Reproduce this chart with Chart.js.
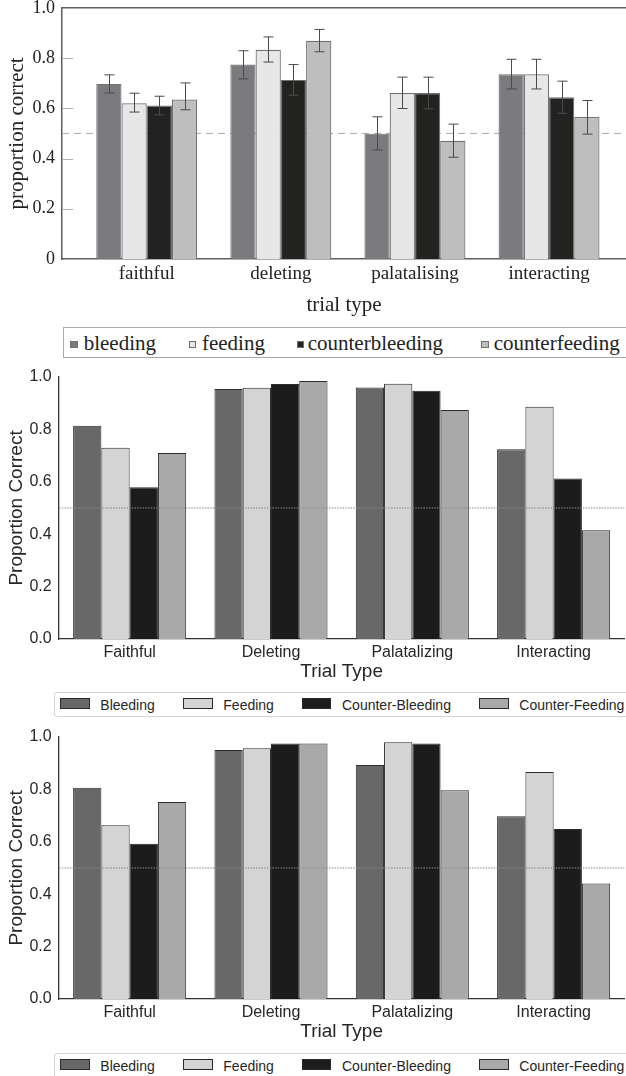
<!DOCTYPE html>
<html><head><meta charset="utf-8">
<script src="https://cdn.jsdelivr.net/npm/chart.js@4.4.1/dist/chart.umd.min.js"></script>
<style>
html,body{margin:0;padding:0;background:#fff;}
body{width:626px;height:1076px;overflow:hidden;position:relative;}
.cw{position:absolute;left:0;width:626px;height:330px;}
.legend{position:absolute;box-sizing:border-box;background:#fff;}
.sw{position:absolute;box-sizing:border-box;}
.lt{position:absolute;white-space:nowrap;}
</style></head><body>
<div class="cw" style="top:-10px"><canvas id="c1" width="626" height="330"></canvas></div>
<div class="cw" style="top:360px"><canvas id="c2" width="626" height="330"></canvas></div>
<div class="cw" style="top:720px"><canvas id="c3" width="626" height="330"></canvas></div>
<div id="leg1"></div><div id="leg2"></div><div id="leg3"></div>
<script>
// ---------- data ----------
const chanceLevel = 0.5;

// Panel 1 (top)
const categoriesTop = ['faithful', 'deleting', 'palatalising', 'interacting'];
const seriesTop = ['bleeding', 'feeding', 'counterbleeding', 'counterfeeding'];
const topBleeding        = [0.697, 0.774, 0.499, 0.735];
const topFeeding         = [0.620, 0.833, 0.661, 0.735];
const topCounterbleeding = [0.611, 0.713, 0.661, 0.644];
const topCounterfeeding  = [0.635, 0.869, 0.471, 0.565];
const topBleedingLow        = [0.661, 0.717, 0.434, 0.677];
const topBleedingHigh       = [0.733, 0.829, 0.566, 0.795];
const topFeedingLow         = [0.585, 0.784, 0.599, 0.677];
const topFeedingHigh        = [0.660, 0.884, 0.724, 0.795];
const topCounterbleedingLow = [0.574, 0.652, 0.598, 0.580];
const topCounterbleedingHigh= [0.648, 0.774, 0.724, 0.708];
const topCounterfeedingLow  = [0.594, 0.825, 0.405, 0.497];
const topCounterfeedingHigh = [0.701, 0.914, 0.537, 0.631];
const topYTicks = [0, 0.2, 0.4, 0.6, 0.8, 1];

// Panels 2 and 3
const categoriesLower = ['Faithful', 'Deleting', 'Palatalizing', 'Interacting'];
const seriesLower = ['Bleeding', 'Feeding', 'Counter-Bleeding', 'Counter-Feeding'];
const midBleeding        = [0.814, 0.954, 0.960, 0.724];
const midFeeding         = [0.730, 0.959, 0.974, 0.886];
const midCounterBleeding = [0.579, 0.973, 0.947, 0.612];
const midCounterFeeding  = [0.710, 0.984, 0.874, 0.415];
const botBleeding        = [0.806, 0.950, 0.893, 0.697];
const botFeeding         = [0.663, 0.957, 0.980, 0.866];
const botCounterBleeding = [0.592, 0.975, 0.975, 0.649];
const botCounterFeeding  = [0.752, 0.975, 0.796, 0.441];

// ---------- styles ----------
const topColors = ['#7b7b7f', '#e7e7e7', '#222221', '#bebebf'];
const lowerColors = ['#686868', '#d4d4d4', '#1c1c1c', '#a9a9a9'];
const SERIF = "'Liberation Serif', 'Times New Roman', serif";
const SANS = "'Liberation Sans', Arial, sans-serif";

// ---------- plugins ----------
const refLinePlugin = {
  id: 'refLine',
  beforeDatasetsDraw(chart, args, o) { if (!o.front) draw(chart, o); },
  afterDatasetsDraw(chart, args, o) { if (o.front) draw(chart, o); }
};
function draw(chart, o) {
  if (o.value === undefined) return;
  const {ctx, chartArea} = chart;
  const y = chart.scales.y.getPixelForValue(o.value);
  ctx.save();
  ctx.strokeStyle = o.color; ctx.lineWidth = o.width; ctx.setLineDash(o.dash);
  ctx.beginPath(); ctx.moveTo(chartArea.left, y); ctx.lineTo(chartArea.right, y); ctx.stroke();
  ctx.restore();
}
const errorBarPlugin = {
  id: 'errorBars',
  afterDatasetsDraw(chart, args, o) {
    if (!o.low) return;
    const {ctx} = chart; const ys = chart.scales.y;
    ctx.save(); ctx.strokeStyle = o.color; ctx.lineWidth = 1;
    chart.data.datasets.forEach((ds, i) => {
      const meta = chart.getDatasetMeta(i);
      meta.data.forEach((el, j) => {
        const x = Math.round(el.x) + 0.5;
        const y1 = ys.getPixelForValue(o.low[i][j]);
        const y2 = ys.getPixelForValue(o.high[i][j]);
        ctx.beginPath();
        ctx.moveTo(x, y1); ctx.lineTo(x, y2);
        ctx.moveTo(x - o.cap, y1); ctx.lineTo(x + o.cap, y1);
        ctx.moveTo(x - o.cap, y2); ctx.lineTo(x + o.cap, y2);
        ctx.stroke();
      });
    });
    ctx.restore();
  }
};
const framePlugin = {
  id: 'frame',
  afterDraw(chart, args, o) {
    if (!o.show) return;
    const {ctx, chartArea} = chart; const ys = chart.scales.y;
    ctx.save();
    ctx.strokeStyle = '#b0b0b0'; ctx.lineWidth = 1;
    ys.ticks.forEach(t => {
      if (t.value <= 0 || t.value >= 1) return;
      const y = Math.round(ys.getPixelForValue(t.value)) + 0.5;
      ctx.beginPath(); ctx.moveTo(chartArea.left, y); ctx.lineTo(chartArea.left + 11, y); ctx.stroke();
    });
    ctx.strokeStyle = '#5f5f5f'; ctx.lineWidth = 1.5;
    ctx.beginPath(); ctx.moveTo(chartArea.left, chartArea.top); ctx.lineTo(chartArea.right, chartArea.top); ctx.stroke();
    ctx.restore();
  }
};
Chart.register(refLinePlugin, errorBarPlugin, framePlugin);

// ---------- panel 1 ----------
const topSeriesValues = [topBleeding, topFeeding, topCounterbleeding, topCounterfeeding];
new Chart(document.getElementById('c1'), {
  type: 'bar',
  data: {
    datasets: seriesTop.map((name, i) => ({
      label: name,
      data: topSeriesValues[i].map((v, j) => ({x: j, y: v})),
      backgroundColor: topColors[i],
      borderColor: '#707070',
      borderWidth: 1.2,
      categoryPercentage: 0.753,
      barPercentage: 1.0
    }))
  },
  options: {
    responsive: false, animation: false, events: [],
    layout: {padding: {top: 17, right: 0, left: 0, bottom: 0}},
    plugins: {
      legend: {display: false}, tooltip: {enabled: false},
      refLine: {value: chanceLevel, color: '#ababab', width: 1, dash: [7, 5], front: false},
      errorBars: {
        low: [topBleedingLow, topFeedingLow, topCounterbleedingLow, topCounterfeedingLow],
        high: [topBleedingHigh, topFeedingHigh, topCounterbleedingHigh, topCounterfeedingHigh],
        color: '#4a4a4a', cap: 5
      },
      frame: {show: true}
    },
    scales: {
      x: {
        type: 'linear', min: -0.632, max: 3.574, offset: false,
        grid: {display: false, drawTicks: false, offset: false},
        border: {display: true, color: '#5f5f5f', width: 1.5},
        afterBuildTicks: s => { s.ticks = categoriesTop.map((c, i) => ({value: i})); },
        ticks: {callback: v => categoriesTop[v], padding: 3.6, autoSkip: false, maxRotation: 0,
                color: '#222', font: {family: SERIF, size: 19}},
        title: {display: true, text: 'trial type', color: '#222', font: {family: SERIF, size: 21},
                padding: {top: 0, bottom: 2.4}},
        afterFit: s => { s.height = 61; }
      },
      y: {
        min: 0, max: 1,
        afterBuildTicks: s => { s.ticks = topYTicks.map(v => ({value: v})); },
        grid: {display: false, drawTicks: false},
        border: {display: true, color: '#5f5f5f', width: 1.5},
        ticks: {padding: 7, color: '#222', font: {family: SERIF, size: 18}},
        title: {display: true, text: 'proportion correct', color: '#222', font: {family: SERIF, size: 21},
                padding: {top: 4.4, bottom: 0}},
        afterFit: s => { s.width = 62; }
      }
    }
  }
});

// ---------- panels 2 and 3 ----------
function lowerChart(id, values) {
  return new Chart(document.getElementById(id), {
    type: 'bar',
    data: {
      labels: categoriesLower,
      datasets: seriesLower.map((name, i) => ({
        label: name, data: values[i],
        backgroundColor: lowerColors[i], borderColor: '#2b2b2b', borderWidth: 1,
        categoryPercentage: 0.8, barPercentage: 1.0
      }))
    },
    options: {
      responsive: false, animation: false, events: [],
      layout: {padding: {top: 16.5, right: 1.7, left: 0, bottom: 0}},
      plugins: {
        legend: {display: false}, tooltip: {enabled: false},
        refLine: {value: chanceLevel, color: '#8a8a8a', width: 1, dash: [1.5, 1.2], front: true}
      },
      scales: {
        x: {
          grid: {display: false, drawTicks: false},
          border: {display: true, color: '#333', width: 1.3},
          ticks: {padding: 4.4, color: '#262626', font: {family: SANS, size: 16}},
          title: {display: true, text: 'Trial Type', color: '#262626', font: {family: SANS, size: 19},
                  padding: {top: 0, bottom: 6.9}},
          afterFit: s => { s.height = 51; }
        },
        y: {
          min: 0, max: 1,
          grid: {display: false, drawTicks: false},
          border: {display: true, color: '#333', width: 1.3},
          ticks: {stepSize: 0.2, padding: 7.3, color: '#262626', font: {family: SANS, size: 16},
                  callback: v => Number(v).toFixed(1)},
          title: {display: true, text: 'Proportion Correct', color: '#262626', font: {family: SANS, size: 19},
                  padding: {top: 5.3, bottom: 0}},
          afterFit: s => { s.width = 59; }
        }
      }
    }
  });
}
lowerChart('c2', [midBleeding, midFeeding, midCounterBleeding, midCounterFeeding]);
lowerChart('c3', [botBleeding, botFeeding, botCounterBleeding, botCounterFeeding]);

// ---------- legends (HTML text) ----------
function buildLegend(elId, names, colors, L) {
  const box = document.getElementById(elId);
  box.className = 'legend';
  Object.assign(box.style, {left: L.left + 'px', top: L.top + 'px', width: (640 - L.left) + 'px',
    height: L.height + 'px', border: L.border, borderRadius: L.radius + 'px'});
  names.forEach((n, i) => {
    const sw = document.createElement('div');
    sw.className = 'sw';
    Object.assign(sw.style, {left: (L.sw[i] - L.left) + 'px', top: L.swTop + 'px',
      width: L.swW + 'px', height: L.swH + 'px', background: colors[i], border: L.swBorder});
    box.appendChild(sw);
    const t = document.createElement('div');
    t.className = 'lt'; t.textContent = n;
    Object.assign(t.style, {left: (L.tx[i] - L.left) + 'px', top: L.txTop + 'px', font: L.font,
      lineHeight: L.lh + 'px', color: L.color});
    box.appendChild(t);
  });
}
buildLegend('leg1', seriesTop, topColors, {
  left: 62.7, top: 327.3, height: 31, border: '1px solid #a9a9a9', radius: 0,
  sw: [69.3, 187.7, 296, 480.3], swTop: 12.5, swW: 7.5, swH: 7.5, swBorder: '1px solid #6e6e6e',
  tx: [82.7, 201, 306.7, 492.7], txTop: 2.5, font: '21px ' + SERIF, lh: 24, color: '#222'
});
const lowerLegend = (top) => ({
  left: 54.3, top: top, height: 25, border: '1px solid #d3d3d3', radius: 3,
  sw: [59.3, 182, 300.7, 478], swTop: 5, swW: 29.7, swH: 10.7, swBorder: '1px solid #2b2b2b',
  tx: [99.3, 222.3, 341, 518.3], txTop: 2, font: '14px ' + SANS, lh: 20, color: '#262626'
});
buildLegend('leg2', seriesLower, lowerColors, lowerLegend(692.3));
buildLegend('leg3', seriesLower, lowerColors, lowerLegend(1053.3));
</script>
</body></html>
